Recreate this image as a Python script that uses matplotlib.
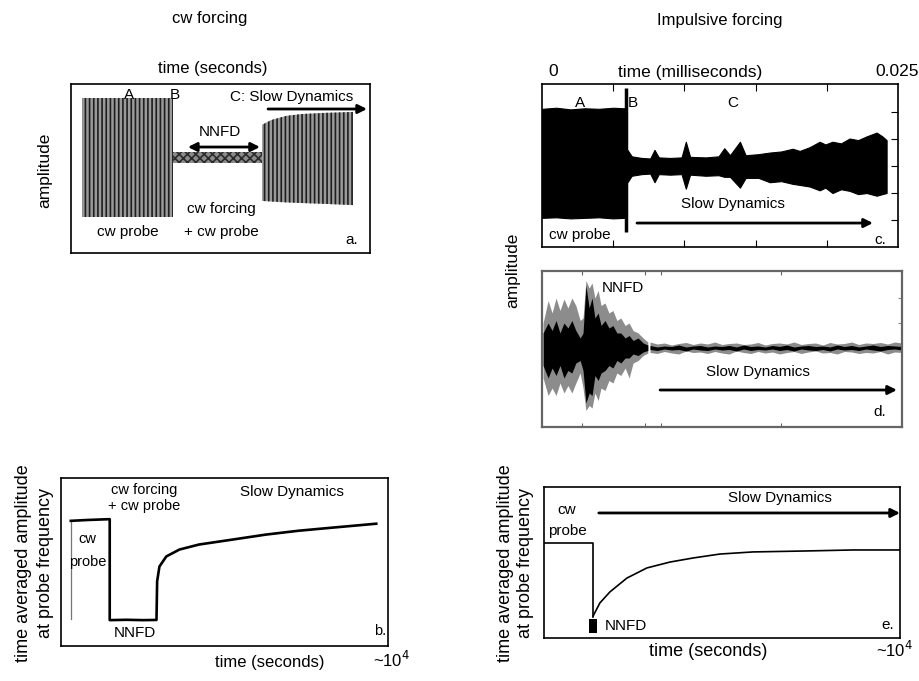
import numpy as np
import matplotlib
matplotlib.use("Agg")
import matplotlib.pyplot as plt

plt.rcParams["font.family"] = ["Liberation Sans", "DejaVu Sans"]
plt.rcParams["hatch.linewidth"] = 1.2

W, H = 920, 681

# ---- panel a: cw forcing, raw signal (envelopes) ----
a_probe_t = [3.7, 34.1]
a_probe_up = [1.0, 1.0]
a_probe_lo = [-1.0, -1.0]
a_nnfd_t = [34.1, 63.9]
a_nnfd_up = [0.09, 0.09]
a_nnfd_lo = [-0.09, -0.09]
a_slow_t = [63.9, 67, 72, 77, 85, 94.3]
a_slow_up = [0.55, 0.63, 0.70, 0.73, 0.75, 0.765]
a_slow_lo = [-0.73, -0.74, -0.755, -0.765, -0.78, -0.80]

# ---- panel b: cw forcing, time averaged amplitude ----
b_t = [3.0, 3.0, 8.0, 14.9, 14.9, 20.0, 25.0, 29.2, 29.4, 30.1, 32.2, 36.2,
       42.2, 52.3, 62.6, 72.6, 82.7, 93.0, 96.4]
b_amp = [0.16, 0.745, 0.75, 0.755, 0.154, 0.156, 0.154, 0.155, 0.385, 0.473,
         0.533, 0.574, 0.604, 0.633, 0.663, 0.686, 0.704, 0.722, 0.728]

# ---- panel c: impulsive forcing, raw signal (ms) ----
c_probe_t = [0.0, 0.001, 0.002, 0.003, 0.004, 0.005, 0.0058]
c_probe_up = [1.06, 1.08, 1.05, 1.07, 1.06, 1.08, 1.07]
c_probe_lo = [-0.96, -0.95, -0.97, -0.96, -0.95, -0.97, -0.96]
c_spike_t = 0.0059
c_spike_up, c_spike_lo = 1.44, -1.22
c_slow_t = [0.0060, 0.0063, 0.0070, 0.0076, 0.0079, 0.0082, 0.0090, 0.0098,
            0.0101, 0.0104, 0.0115, 0.0124, 0.0128, 0.0132, 0.0139, 0.0143,
            0.0152, 0.0160, 0.0168, 0.0176, 0.0181, 0.0188, 0.0195, 0.0199,
            0.0204, 0.0210, 0.0216, 0.0222, 0.0228, 0.0235, 0.0239, 0.0242]
c_slow_up = [0.30, 0.18, 0.15, 0.14, 0.30, 0.16, 0.15, 0.16, 0.45, 0.17,
             0.16, 0.18, 0.33, 0.20, 0.45, 0.20, 0.22, 0.25, 0.27, 0.32,
             0.28, 0.35, 0.45, 0.40, 0.45, 0.42, 0.51, 0.48, 0.55, 0.62,
             0.55, 0.48]
c_slow_lo = [-0.30, -0.18, -0.15, -0.14, -0.30, -0.15, -0.16, -0.15, -0.42,
             -0.16, -0.18, -0.17, -0.20, -0.20, -0.40, -0.22, -0.22, -0.30,
             -0.28, -0.33, -0.35, -0.38, -0.45, -0.40, -0.50, -0.43, -0.46,
             -0.52, -0.50, -0.55, -0.52, -0.50]

# ---- panel d: impulsive forcing, NNFD burst ----
d_burst_t = [0.3, 1.7, 2.8, 3.9, 5.0, 6.1, 7.2, 8.3, 9.4, 10.6, 11.4, 12.2,
             13.1, 13.9, 14.7, 15.6, 16.4, 17.5, 18.6, 19.7, 20.8, 21.9,
             23.1, 24.2, 25.3, 26.7, 28.1, 29.4]
d_gray_up = [0.5, 0.95, 0.7, 1.0, 0.75, 0.98, 0.8, 1.0, 0.85, 0.55, 0.6, 1.35,
             1.2, 1.3, 1.0, 1.15, 0.85, 0.9, 0.7, 0.75, 0.55, 0.6, 0.45, 0.5,
             0.35, 0.3, 0.2, 0.12]
d_gray_lo = [-0.6, -0.95, -0.8, -0.95, -0.7, -0.9, -0.75, -0.9, -0.7, -0.5,
             -0.8, -1.25, -1.15, -1.2, -0.9, -1.05, -0.8, -0.85, -0.65, -0.7,
             -0.5, -0.55, -0.4, -0.6, -0.3, -0.25, -0.15, -0.1]
d_black_up = [0.3, 0.5, 0.35, 0.55, 0.3, 0.5, 0.4, 0.55, 0.35, 0.2, 0.3, 1.25,
              0.8, 1.0, 0.6, 0.7, 0.45, 0.55, 0.4, 0.45, 0.3, 0.3, 0.2, 0.25,
              0.15, 0.2, 0.1, 0.06]
d_black_lo = [-0.35, -0.6, -0.4, -0.55, -0.35, -0.6, -0.45, -0.5, -0.3, -0.25,
              -0.45, -1.1, -0.9, -0.95, -0.55, -0.65, -0.5, -0.45, -0.35,
              -0.4, -0.25, -0.3, -0.2, -0.2, -0.12, -0.15, -0.08, -0.05]
d_noise_t = [30, 32, 34, 36, 38, 40, 42, 44, 46, 48, 50, 52, 54, 56, 58, 60,
             62, 64, 66, 68, 70, 72, 74, 76, 78, 80, 82, 84, 86, 88, 90, 92,
             94, 96, 98, 100]
d_noise_gray_up = [0.12, 0.08, 0.10, 0.06, 0.09, 0.11, 0.07, 0.10, 0.08, 0.12,
                   0.07, 0.09, 0.10, 0.07, 0.08, 0.11, 0.06, 0.09, 0.10, 0.08,
                   0.12, 0.07, 0.09, 0.10, 0.06, 0.11, 0.08, 0.09, 0.12, 0.07,
                   0.10, 0.09, 0.11, 0.08, 0.12, 0.10]
d_noise_gray_lo = [-0.09, -0.11, -0.07, -0.10, -0.12, -0.06, -0.09, -0.08,
                   -0.11, -0.07, -0.10, -0.12, -0.06, -0.09, -0.11, -0.07,
                   -0.10, -0.08, -0.12, -0.09, -0.07, -0.11, -0.08, -0.06,
                   -0.10, -0.09, -0.12, -0.07, -0.08, -0.11, -0.09, -0.10,
                   -0.07, -0.12, -0.08, -0.09]
d_noise_black_up = [0.05, 0.02, 0.04, 0.03, 0.06, 0.02, 0.04, 0.05, 0.02, 0.04,
                    0.03, 0.05, 0.02, 0.06, 0.03, 0.04, 0.02, 0.05, 0.03, 0.06,
                    0.02, 0.04, 0.05, 0.03, 0.04, 0.02, 0.06, 0.03, 0.05, 0.02,
                    0.04, 0.06, 0.03, 0.05, 0.04, 0.03]
d_noise_black_lo = [-0.03, -0.05, -0.02, -0.04, -0.03, -0.06, -0.02, -0.04,
                    -0.05, -0.02, -0.04, -0.03, -0.06, -0.02, -0.05, -0.03,
                    -0.04, -0.02, -0.05, -0.03, -0.06, -0.02, -0.04, -0.05,
                    -0.03, -0.06, -0.02, -0.04, -0.03, -0.05, -0.02, -0.04,
                    -0.06, -0.03, -0.02, -0.04]

# ---- panel e: impulsive forcing, time averaged amplitude ----
e_probe_t = [0.0, 13.8, 13.8]
e_probe_amp = [0.629, 0.629, 0.139]
e_rec_t = [13.8, 15.7, 18.5, 23.3, 28.9, 35.4, 41.9, 49.4, 58.7, 72.8, 86.8, 100.0]
e_rec_amp = [0.146, 0.232, 0.305, 0.397, 0.464, 0.503, 0.530, 0.556, 0.570,
             0.576, 0.583, 0.583]
e_nnfd_t = [12.6, 14.9]
e_nnfd_amp = [0.033, 0.126]


fig = plt.figure(figsize=(W / 100, H / 100), dpi=100)


def panel(x0, y0, x1, y1):
    """Axes placed by its pixel box in the 920x681 image."""
    ax = fig.add_axes([x0 / W, 1 - y1 / H, (x1 - x0) / W, (y1 - y0) / H])
    ax.set_xticks([])
    ax.set_yticks([])
    for s in ax.spines.values():
        s.set_linewidth(1.2)
    return ax


def ftext(x, y, s, **kw):
    kw.setdefault("ha", "center")
    kw.setdefault("va", "center")
    fig.text(x / W, 1 - y / H, s, **kw)


def arrow(ax, x0, x1, y, both=False):
    style = "<|-|>" if both else "-|>"
    ax.annotate("", xy=(x1, y), xytext=(x0, y),
                arrowprops=dict(arrowstyle=style, color="black", lw=2,
                                mutation_scale=13, shrinkA=0, shrinkB=0))


# panel a
ax = panel(71, 84, 370, 253)
ax.set_xlim(0, 100)
ax.set_ylim(-1.605, 1.235)
for t, up, lo in [(a_probe_t, a_probe_up, a_probe_lo),
                  (a_slow_t, a_slow_up, a_slow_lo)]:
    ax.fill_between(t, lo, up, facecolor="#9a9a9a", edgecolor="#1e1e1e",
                    hatch="||||", linewidth=0)
ax.fill_between(a_nnfd_t, a_nnfd_lo, a_nnfd_up, facecolor="#8a8a8a",
                edgecolor="#2a2a2a", hatch="xxxx", linewidth=0)
arrow(ax, 39.1, 63.2, 0.176, both=True)
arrow(ax, 65.9, 99.0, 0.815)
kw = dict(fontsize=11, ha="center", va="center")
ax.text(19.4, 1.05, "A", **kw)
ax.text(34.6, 1.05, "B", **kw)
ax.text(73.7, 1.02, "C: Slow Dynamics", **kw)
ax.text(49.8, 0.43, "NNFD", **kw)
ax.text(50.2, -0.866, "cw forcing", **kw)
ax.text(50.2, -1.25, "+ cw probe", **kw)
ax.text(19.1, -1.25, "cw probe", **kw)
ax.text(94, -1.39, "a.", **kw)

# panel b
ax = panel(61, 478, 388, 646)
ax.set_xlim(0, 100)
ax.set_ylim(0, 1)
ax.plot(b_t[:2], b_amp[:2], color="#777777", lw=0.9)
ax.plot(b_t[1:], b_amp[1:], color="black", lw=1.9)
kw = dict(fontsize=10.5, ha="center", va="center")
ax.text(25.5, 0.931, "cw forcing", **kw)
ax.text(25.5, 0.834, "+ cw probe", **kw)
ax.text(70.5, 0.917, "Slow Dynamics", fontsize=11, ha="center", va="center")
ax.text(8.2, 0.637, "cw", **kw)
ax.text(8.2, 0.502, "probe", **kw)
ax.text(22.5, 0.075, "NNFD", fontsize=11, ha="center", va="center")
ax.text(97.5, 0.087, "b.", **kw)

# panel c
ax = panel(542, 84, 898, 247)
ax.set_xlim(0, 0.025)
ax.set_ylim(-1.5, 1.52)
ax.fill_between(c_probe_t, c_probe_lo, c_probe_up, color="black", linewidth=0.8)
ax.vlines(c_spike_t, c_spike_lo, c_spike_up, color="black", lw=2.5)
ax.fill_between(c_slow_t, c_slow_lo, c_slow_up, color="black", linewidth=0.8)
arrow(ax, 0.00667, 0.02324, -1.056)
ax.set_xticks([0.005, 0.01, 0.015, 0.02])
ax.set_yticks([1.0, 0.5, 0.0, -0.5, -1.0])
ax.tick_params(axis="x", direction="in", top=True, bottom=True, length=5,
               labelbottom=False)
ax.tick_params(axis="y", direction="in", left=False, right=True, length=5,
               labelleft=False)
kw = dict(fontsize=11, ha="center", va="center")
ax.text(0.00267, 1.17, "A", **kw)
ax.text(0.0064, 1.17, "B", **kw)
ax.text(0.01341, 1.17, "C", **kw)
ax.text(0.01341, -0.70, "Slow Dynamics", **kw)
ax.text(0.00267, -1.28, "cw probe", **kw)
ax.text(0.02373, -1.37, "c.", **kw)

# panel d
ax = panel(542, 271, 902, 427)
ax.set_xlim(0, 100)
ax.set_ylim(-1.58, 1.54)
ax.fill_between(d_burst_t, d_gray_lo, d_gray_up, color="#8c8c8c", linewidth=0)
ax.fill_between(d_noise_t, d_noise_gray_lo, d_noise_gray_up, color="#8c8c8c",
                linewidth=0)
ax.fill_between(d_burst_t, d_black_lo, d_black_up, color="black", linewidth=0)
ax.fill_between(d_noise_t, d_noise_black_lo, d_noise_black_up, color="black",
                linewidth=0)
for s in ax.spines.values():
    s.set_color("#666666")
    s.set_linewidth(1.6)
arrow(ax, 32.8, 98.6, -0.84)
ax.set_xticks([11.1, 28.6, 33.1, 66.4])
ax.set_yticks([0.5, 1.0])
ax.tick_params(axis="x", direction="in", top=True, bottom=True, length=3,
               color="#666666", labelbottom=False)
ax.tick_params(axis="y", direction="in", left=False, right=True, length=3,
               color="#888888", labelleft=False)
kw = dict(fontsize=11, ha="center", va="center")
ax.text(22.5, 1.2, "NNFD", **kw)
ax.text(60, -0.48, "Slow Dynamics", **kw)
ax.text(93.9, -1.28, "d.", **kw)

# panel e
ax = panel(544, 487, 900, 638)
ax.set_xlim(0, 100)
ax.set_ylim(0, 1)
ax.plot(e_probe_t, e_probe_amp, color="black", lw=1.2)
ax.plot(e_rec_t, e_rec_amp, color="black", lw=1.2)
ax.fill_between(e_nnfd_t, e_nnfd_amp[0], e_nnfd_amp[1], color="black",
                linewidth=0)
arrow(ax, 15.4, 100, 0.828)
kw = dict(fontsize=11, ha="center", va="center")
ax.text(66.3, 0.927, "Slow Dynamics", **kw)
ax.text(6.5, 0.848, "cw", **kw)
ax.text(6.5, 0.709, "probe", **kw)
ax.text(17.1, 0.08, "NNFD", fontsize=11, ha="left", va="center")
ax.text(96.6, 0.086, "e.", **kw)

# figure-level labels
ftext(210, 19, "cw forcing", fontsize=12)
ftext(213, 68, "time (seconds)", fontsize=12)
ftext(45, 170, "amplitude", fontsize=12.5, rotation=90)
ftext(720, 20, "Impulsive forcing", fontsize=12)
ftext(553, 72, "0", fontsize=12.5)
ftext(690, 72, "time (milliseconds)", fontsize=12.5)
ftext(897, 72, "0.025", fontsize=12.5)
ftext(513, 270, "amplitude", fontsize=12.5, rotation=90)
ftext(24, 563, "time averaged amplitude", fontsize=13, rotation=90)
ftext(46, 563, "at probe frequency", fontsize=13, rotation=90)
ftext(270, 662, "time (seconds)", fontsize=12)
ftext(392, 660, "~10$^4$", fontsize=12)
ftext(506, 563, "time averaged amplitude", fontsize=13, rotation=90)
ftext(526, 563, "at probe frequency", fontsize=13, rotation=90)
ftext(708, 652, "time (seconds)", fontsize=13)
ftext(895, 650, "~10$^4$", fontsize=12)

fig.savefig("out.png", dpi=100)
